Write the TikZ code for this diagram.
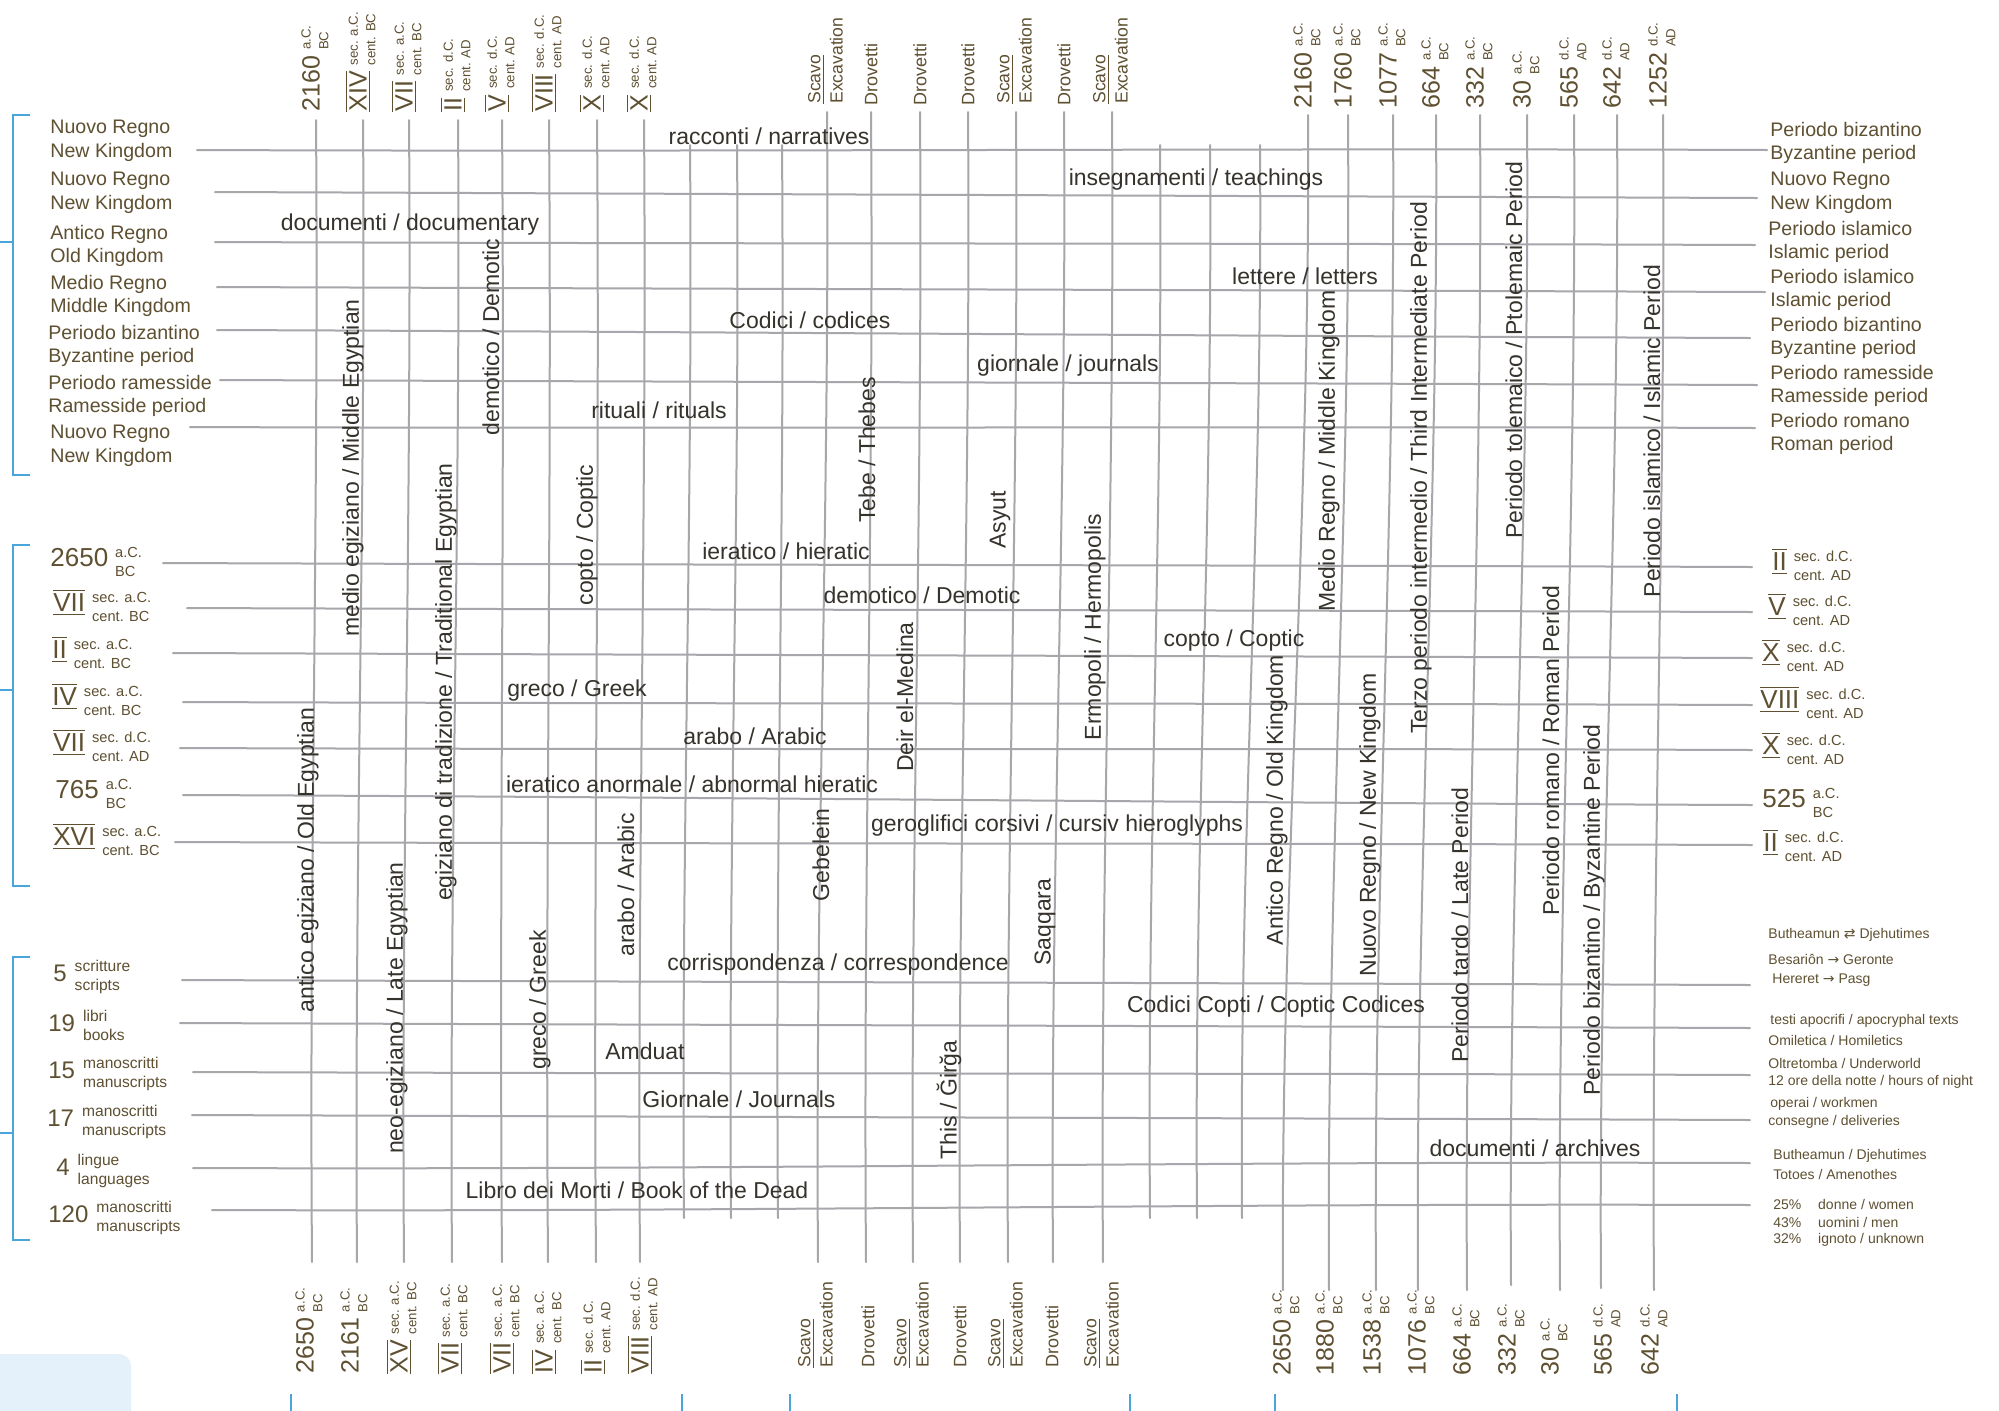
\documentclass[tikz,border=0pt]{standalone}
\usepackage{fontspec}
\setmainfont{Liberation Sans}
\newfontfamily\symf{DejaVu Sans}
\definecolor{inkc}{HTML}{36322C}
\definecolor{brownc}{HTML}{5E5031}
\definecolor{gridc}{HTML}{A6A6AB}
\definecolor{bluec}{HTML}{4AA5DA}
\definecolor{lboxc}{HTML}{E4F1FB}
\newcommand\rn[1]{\ensuremath{\overline{\underline{\mbox{#1}}}}}
\newcommand\dlab[7]{{\fontsize{#4}{#4}\selectfont #1}\hspace{#7}{\fontsize{#5}{#6}\selectfont\begin{tabular}[c]{@{}l@{}}#2\\#3\end{tabular}}}
\newcommand\tblab[3]{\dlab{#1}{#2}{#3}{12.5}{6.6}{8.8}{3pt}}
\newcommand\sdlab[3]{\dlab{#1}{#2}{#3}{13}{7.3}{9.4}{3.5pt}}
\newcommand\gnlab[3]{\dlab{#1}{#2}{#3}{12}{7.8}{9.6}{4pt}}
\newcommand\scv{{\fontsize{8.8}{11.2}\selectfont\begin{tabular}[c]{@{}l@{}}\underline{Scavo}\\Excavation\end{tabular}}}
\newcommand\drv{{\fontsize{9}{9}\selectfont Drovetti}}
\tikzset{
  gridline/.style={draw=gridc, line width=1pt, line cap=round},
  bluebr/.style={draw=bluec, line width=1.1pt},
  ht/.style={text=inkc, inner sep=0pt, font=\fontsize{11.5}{13}\selectfont},
  vt/.style={ht, rotate=90},
  sidelab/.style={text=brownc, inner sep=0pt, anchor=west, align=left, font=\fontsize{9.8}{11.8}\selectfont},
  toplab/.style={text=brownc, inner sep=0pt, anchor=west, rotate=90},
  smalllab/.style={text=brownc, inner sep=0pt, anchor=west, font=\fontsize{7}{8}\selectfont},
}
\begin{document}
\begin{tikzpicture}[x=0.5pt,y=-0.5pt]
\useasboundingbox (0,0) rectangle (1999,1410);
\fill[white] (0,0) rectangle (1999,1410);
% light blue tab
\fill[lboxc, rounded corners=6pt] (-20,1354) rectangle (131,1430);
% vertical grid lines
\foreach \i/\tx/\ty/\bx/\by in {
 1/316/120/312/1262, 2/363/120/357/1262, 3/409/120/404/1262, 4/458/120/452/1262,
 5/502/120/502/1262, 6/549/120/548/1262, 7/597/120/596/1262, 8/644/120/640/1262,
 9/690/145/684/1218, 10/737/145/731/1218, 11/782/145/778/1218,
 12/827/112/818/1262, 13/871/112/866/1262, 14/920/112/913/1262, 15/968/112/960/1262,
 16/1016/112/1008/1262, 17/1064/112/1053/1262, 18/1112/112/1103/1262,
 19/1160/145/1150/1218, 20/1210/145/1197/1218, 21/1260/145/1242/1218,
 22/1308/115/1283/1290, 23/1348/115/1329/1290, 24/1393/115/1376/1290,
 25/1436/115/1418/1290, 26/1480/115/1467/1290, 27/1527/115/1511/1285,
 28/1574/115/1560/1290, 29/1617/115/1601/1288, 30/1663/115/1654/1290}{
  \coordinate (vt\i) at (\tx,\ty);
  \coordinate (vb\i) at (\bx,\by);
  \draw[gridline] (vt\i) .. controls +(3,380) and +(-3,-380) .. (vb\i);
}
% horizontal grid lines
\foreach \j/\lx/\ly/\rx/\ry in {
 1/197/150/1767/150, 2/215/192/1757/198, 3/215/242/1755/245, 4/217/287/1765/292,
 5/217/330/1750/338, 6/220/380/1757/385, 7/190/427/1755/428,
 8/163/563/1752/567, 9/187/608/1752/612, 10/173/653/1752/658, 11/183/702/1752/705,
 12/180/748/1752/750, 13/183/795/1752/805, 14/175/842/1752/845,
 15/182/980/1750/985, 16/180/1023/1750/1028, 17/193/1072/1750/1075,
 18/192/1115/1750/1120, 19/193/1168/1750/1163, 20/212/1210/1750/1205}{
  \coordinate (hl\j) at (\lx,\ly);
  \coordinate (hr\j) at (\rx,\ry);
  \draw[gridline] (hl\j) .. controls +(520,2) and +(-520,-2) .. (hr\j);
}
% blue brackets
\coordinate (b1a) at (30,115); \coordinate (b1b) at (13,115); \coordinate (b1c) at (13,475); \coordinate (b1d) at (30,475);
\coordinate (b1m) at (13,242); \coordinate (b1e) at (0,242);
\draw[bluebr] (b1a) -- (b1b) -- (b1c) -- (b1d); \draw[bluebr] (b1m) -- (b1e);
\coordinate (b2a) at (30,545); \coordinate (b2b) at (13,545); \coordinate (b2c) at (13,886); \coordinate (b2d) at (30,886);
\coordinate (b2m) at (13,690); \coordinate (b2e) at (0,690);
\draw[bluebr] (b2a) -- (b2b) -- (b2c) -- (b2d); \draw[bluebr] (b2m) -- (b2e);
\coordinate (b3a) at (30,957); \coordinate (b3b) at (13,957); \coordinate (b3c) at (13,1240); \coordinate (b3d) at (30,1240);
\coordinate (b3m) at (13,1133); \coordinate (b3e) at (0,1133);
\draw[bluebr] (b3a) -- (b3b) -- (b3c) -- (b3d); \draw[bluebr] (b3m) -- (b3e);
% bottom blue ticks
\foreach \k/\x in {1/291,2/682,3/790,4/1130,5/1275,6/1677}{
  \coordinate (bt\k) at (\x,1394); \coordinate (bu\k) at (\x,1412);
  \draw[bluebr] (bt\k) -- (bu\k);
}
% ---------- top labels ----------
\node[toplab] (tl1) at ([yshift=4pt]vt1) {\tblab{2160}{a.C.}{BC}};
\node[toplab] (tl2) at ([yshift=4pt]vt2) {\tblab{\rn{XIV}}{sec. a.C.}{cent. BC}};
\node[toplab] (tl3) at ([yshift=4pt]vt3) {\tblab{\rn{VII}}{sec. a.C.}{cent. BC}};
\node[toplab] (tl4) at ([yshift=4pt]vt4) {\tblab{\rn{II}}{sec. d.C.}{cent. AD}};
\node[toplab] (tl5) at ([yshift=4pt]vt5) {\tblab{\rn{V}}{sec. d.C.}{cent. AD}};
\node[toplab] (tl6) at ([yshift=4pt]vt6) {\tblab{\rn{VIII}}{sec. d.C.}{cent. AD}};
\node[toplab] (tl7) at ([yshift=4pt]vt7) {\tblab{\rn{X}}{sec. d.C.}{cent. AD}};
\node[toplab] (tl8) at ([yshift=4pt]vt8) {\tblab{\rn{X}}{sec. d.C.}{cent. AD}};
\node[toplab] (tl12) at ([yshift=4pt]vt12) {\scv};
\node[toplab] (tl13) at ([yshift=3pt]vt13) {\drv};
\node[toplab] (tl14) at ([yshift=3pt]vt14) {\drv};
\node[toplab] (tl15) at ([yshift=3pt]vt15) {\drv};
\node[toplab] (tl16) at ([yshift=4pt]vt16) {\scv};
\node[toplab] (tl17) at ([yshift=3pt]vt17) {\drv};
\node[toplab] (tl18) at ([yshift=4pt]vt18) {\scv};
\node[toplab] (tl22) at ([yshift=3pt]vt22) {\tblab{2160}{a.C.}{BC}};
\node[toplab] (tl23) at ([yshift=3pt]vt23) {\tblab{1760}{a.C.}{BC}};
\node[toplab] (tl24) at ([yshift=3pt]vt24) {\tblab{1077}{a.C.}{BC}};
\node[toplab] (tl25) at ([yshift=3pt]vt25) {\tblab{664}{a.C.}{BC}};
\node[toplab] (tl26) at ([yshift=3pt]vt26) {\tblab{332}{a.C.}{BC}};
\node[toplab] (tl27) at ([yshift=3pt]vt27) {\tblab{30}{a.C.}{BC}};
\node[toplab] (tl28) at ([yshift=3pt]vt28) {\tblab{565}{d.C.}{AD}};
\node[toplab] (tl29) at ([yshift=3pt]vt29) {\tblab{642}{d.C.}{AD}};
\node[toplab] (tl30) at ([yshift=3pt]vt30) {\tblab{1252}{d.C.}{AD}};
% ---------- bottom labels ----------
\node[toplab] (bl1) at (310,1374) {\tblab{2650}{a.C.}{BC}};
\node[toplab] (bl2) at (355,1374) {\tblab{2161}{a.C.}{BC}};
\node[toplab] (bl3) at (404,1374) {\tblab{\rn{XV}}{sec. a.C.}{cent. BC}};
\node[toplab] (bl4) at (455,1374) {\tblab{\rn{VII}}{sec. a.C.}{cent. BC}};
\node[toplab] (bl5) at (507,1374) {\tblab{\rn{VII}}{sec. a.C.}{cent. BC}};
\node[toplab] (bl6) at (549,1374) {\tblab{\rn{IV}}{sec. a.C.}{cent. BC}};
\node[toplab] (bl7) at (598,1374) {\tblab{\rn{II}}{sec. d.C.}{cent. AD}};
\node[toplab] (bl8) at (645,1374) {\tblab{\rn{VIII}}{sec. d.C.}{cent. AD}};
\node[toplab] (bl12) at (817,1368) {\scv};
\node[toplab] (bl13) at (868,1368) {\drv};
\node[toplab] (bl14) at (913,1368) {\scv};
\node[toplab] (bl15) at (960,1368) {\drv};
\node[toplab] (bl16) at (1007,1368) {\scv};
\node[toplab] (bl17) at (1052,1368) {\drv};
\node[toplab] (bl18) at (1103,1368) {\scv};
\node[toplab] (bl22) at (1287,1376) {\tblab{2650}{a.C.}{BC}};
\node[toplab] (bl23) at (1330,1376) {\tblab{1880}{a.C.}{BC}};
\node[toplab] (bl24) at (1377,1376) {\tblab{1538}{a.C.}{BC}};
\node[toplab] (bl25) at (1422,1376) {\tblab{1076}{a.C.}{BC}};
\node[toplab] (bl26) at (1467,1376) {\tblab{664}{a.C.}{BC}};
\node[toplab] (bl27) at (1512,1376) {\tblab{332}{a.C.}{BC}};
\node[toplab] (bl28) at (1555,1376) {\tblab{30}{a.C.}{BC}};
\node[toplab] (bl29) at (1608,1376) {\tblab{565}{d.C.}{AD}};
\node[toplab] (bl30) at (1655,1376) {\tblab{642}{d.C.}{AD}};
% ---------- left labels ----------
\node[sidelab] (L1) at (50,141) {Nuovo Regno\\New Kingdom};
\node[sidelab] (L2) at (50,193) {Nuovo Regno\\New Kingdom};
\node[sidelab] (L3) at (50,246) {Antico Regno\\Old Kingdom};
\node[sidelab] (L4) at (50,296) {Medio Regno\\Middle Kingdom};
\node[sidelab] (L5) at (48,346) {Periodo bizantino\\Byzantine period};
\node[sidelab] (L6) at (48,396) {Periodo ramesside\\Ramesside period};
\node[sidelab] (L7) at (50,446) {Nuovo Regno\\New Kingdom};
\node[sidelab] (M1) at (50,563) {\sdlab{2650}{a.C.}{BC}};
\node[sidelab] (M2) at (53,608) {\sdlab{\rn{VII}}{sec. a.C.}{cent. BC}};
\node[sidelab] (M3) at (52,655) {\sdlab{\rn{II}}{sec. a.C.}{cent. BC}};
\node[sidelab] (M4) at (52,702) {\sdlab{\rn{IV}}{sec. a.C.}{cent. BC}};
\node[sidelab] (M5) at (53,748) {\sdlab{\rn{VII}}{sec. d.C.}{cent. AD}};
\node[sidelab] (M6) at (55,795) {\sdlab{765}{a.C.}{BC}};
\node[sidelab] (M7) at (53,842) {\sdlab{\rn{XVI}}{sec. a.C.}{cent. BC}};
\node[sidelab] (N1) at (53,977) {\gnlab{5}{scritture}{scripts}};
\node[sidelab] (N2) at (48,1027) {\gnlab{19}{libri}{books}};
\node[sidelab] (N3) at (48,1074) {\gnlab{15}{manoscritti}{manuscripts}};
\node[sidelab] (N4) at (47,1122) {\gnlab{17}{manoscritti}{manuscripts}};
\node[sidelab] (N5) at (56,1171) {\gnlab{4}{lingue}{languages}};
\node[sidelab] (N6) at (48,1218) {\gnlab{120}{manoscritti}{manuscripts}};
% ---------- right labels ----------
\node[sidelab] (R1) at (1770,143) {Periodo bizantino\\Byzantine period};
\node[sidelab] (R2) at (1770,193) {Nuovo Regno\\New Kingdom};
\node[sidelab] (R3) at (1768,242) {Periodo islamico\\Islamic period};
\node[sidelab] (R4) at (1770,290) {Periodo islamico\\Islamic period};
\node[sidelab] (R5) at (1770,338) {Periodo bizantino\\Byzantine period};
\node[sidelab] (R6) at (1770,386) {Periodo ramesside\\Ramesside period};
\node[sidelab] (R7) at (1770,434) {Periodo romano\\Roman period};
\node[sidelab] (S1) at (1772,567) {\sdlab{\rn{II}}{sec. d.C.}{cent. AD}};
\node[sidelab] (S2) at (1768,612) {\sdlab{\rn{V}}{sec. d.C.}{cent. AD}};
\node[sidelab] (S3) at (1762,658) {\sdlab{\rn{X}}{sec. d.C.}{cent. AD}};
\node[sidelab] (S4) at (1760,705) {\sdlab{\rn{VIII}}{sec. d.C.}{cent. AD}};
\node[sidelab] (S5) at (1762,751) {\sdlab{\rn{X}}{sec. d.C.}{cent. AD}};
\node[sidelab] (S6) at (1762,804) {\sdlab{525}{a.C.}{BC}};
\node[sidelab] (S7) at (1763,848) {\sdlab{\rn{II}}{sec. d.C.}{cent. AD}};
\node[smalllab] (T1) at (1768,935) {Butheamun {\symf ⇄} Djehutimes};
\node[smalllab] (T2) at (1768,959) {Besariôn {\symf →} Geronte};
\node[smalllab] (T3) at (1772,980) {Hereret {\symf →} Pasg};
\node[smalllab] (T4) at (1770,1021) {testi apocrifi / apocryphal texts};
\node[smalllab] (T5) at (1768,1040) {Omiletica / Homiletics};
\node[smalllab] (T6) at (1768,1063) {Oltretomba / Underworld};
\node[smalllab] (T7) at (1768,1082) {12 ore della notte / hours of night};
\node[smalllab] (T8) at (1770,1104) {operai / workmen};
\node[smalllab] (T9) at (1768,1122) {consegne / deliveries};
\node[smalllab] (T10) at (1773,1156) {Butheamun / Djehutimes};
\node[smalllab] (T11) at (1773,1174) {Totoes / Amenothes};
\node[smalllab] (T12) at (1773,1204) {25\%\hspace{1.2em}donne / women};
\node[smalllab] (T13) at (1773,1222) {43\%\hspace{1.2em}uomini / men};
\node[smalllab] (T14) at (1773,1240) {32\%\hspace{1.2em}ignoto / unknown};
% ---------- central horizontal texts ----------
\node[ht] (c1) at (769,136) {racconti / narratives};
\node[ht] (c2) at (1196,180) {insegnamenti / teachings};
\node[ht] (c3) at (410,225) {documenti / documentary};
\node[ht] (c4) at (1305,276) {lettere / letters};
\node[ht] (c5) at (810,320) {Codici / codices};
\node[ht] (c6) at (1068,366) {giornale / journals};
\node[ht] (c7) at (659,410) {rituali / rituals};
\node[ht] (c8) at (786,551) {ieratico / hieratic};
\node[ht] (c9) at (922,595) {demotico / Demotic};
\node[ht] (c10) at (1234,641) {copto / Coptic};
\node[ht] (c11) at (577,691) {greco / Greek};
\node[ht] (c12) at (755,736) {arabo / Arabic};
\node[ht] (c13) at (692,784) {ieratico anormale / abnormal hieratic};
\node[ht] (c14) at (1057,826) {geroglifici corsivi / cursiv hieroglyphs};
\node[ht] (c15) at (838,965) {corrispondenza / correspondence};
\node[ht] (c16) at (1276,1007) {Codici Copti / Coptic Codices};
\node[ht] (c17) at (645,1051) {Amduat};
\node[ht] (c18) at (739,1099) {Giornale / Journals};
\node[ht] (c19) at (1535,1148) {documenti / archives};
\node[ht] (c20) at (637,1190) {Libro dei Morti / Book of the Dead};
% ---------- central vertical texts ----------
\node[vt] (v1) at (353,468) {medio egiziano / Middle Egyptian};
\node[vt] (v2) at (491,337) {demotico / Demotic};
\node[vt] (v3) at (446,682) {egiziano di tradizione / Traditional Egyptian};
\node[vt] (v4) at (587,535) {copto / Coptic};
\node[vt] (v5) at (308,860) {antico egiziano / Old Egyptian};
\node[vt] (v6) at (397,1008) {neo-egiziano / Late Egyptian};
\node[vt] (v7) at (540,1000) {greco / Greek};
\node[vt] (v8) at (626,885) {arabo / Arabic};
\node[vt] (v9) at (867,450) {Tebe / Thebes};
\node[vt] (v10) at (1000,520) {Asyut};
\node[vt] (v11) at (905,697) {Deir el-Medina};
\node[vt] (v12) at (1095,627) {Ermopoli / Hermopolis};
\node[vt] (v13) at (821,855) {Gebelein};
\node[vt] (v14) at (1045,922) {Saqqara};
\node[vt] (v15) at (949,1100) {This / Ğirğa};
\node[vt] (v16) at (1329,451) {Medio Regno / Middle Kingdom};
\node[vt] (v17) at (1421,468) {Terzo periodo intermedio / Third Intermediate Period};
\node[vt] (v18) at (1514,350) {Periodo tolemaico / Ptolemaic Period};
\node[vt] (v19) at (1652,431) {Periodo islamico / Islamic Period};
\node[vt] (v20) at (1277,800) {Antico Regno / Old Kingdom};
\node[vt] (v21) at (1370,825) {Nuovo Regno / New Kingdom};
\node[vt] (v22) at (1460,925) {Periodo tardo / Late Period};
\node[vt] (v23) at (1551,751) {Periodo romano / Roman Period};
\node[vt] (v24) at (1594,910) {Periodo bizantino / Byzantine Period};
\end{tikzpicture}
\end{document}
